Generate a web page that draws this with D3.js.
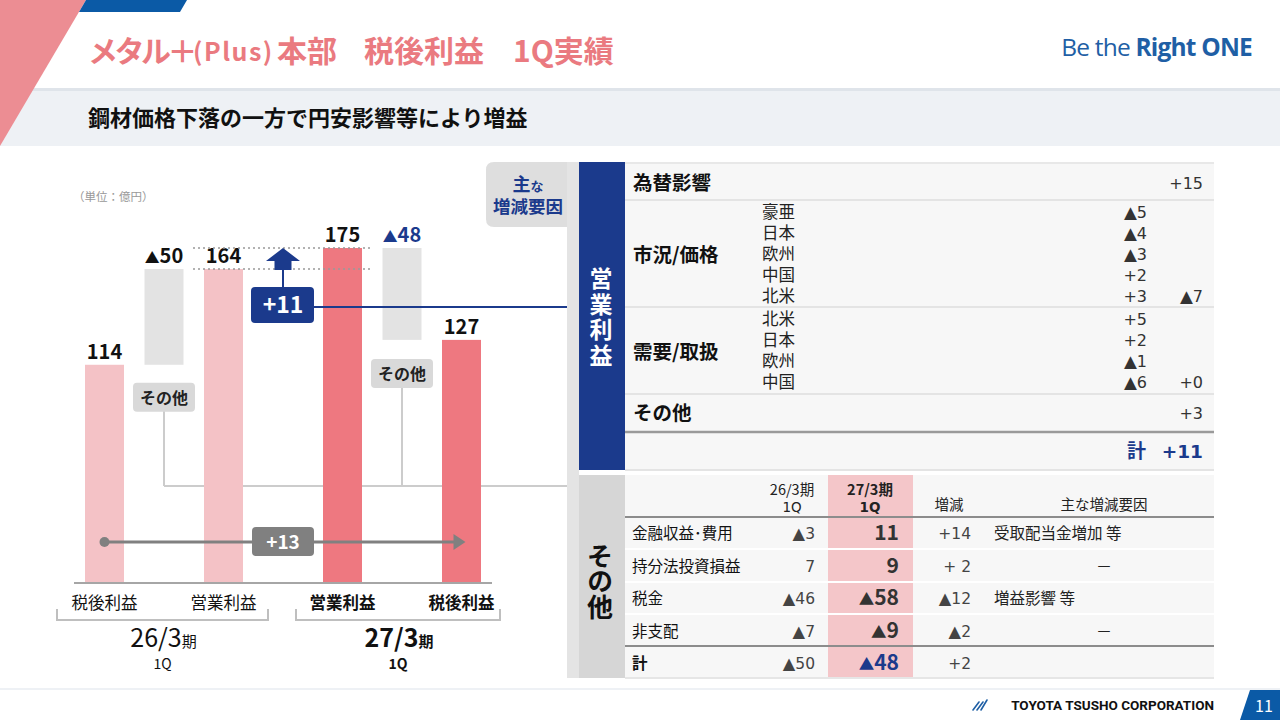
<!DOCTYPE html>
<html><head><meta charset="utf-8">
<script src="https://cdn.jsdelivr.net/npm/d3@7"></script>
<style>
html,body{margin:0;padding:0;background:#fff;}
svg{display:block;font-family:"Noto Sans CJK JP","Noto Sans",sans-serif;}
.vt{writing-mode:vertical-rl;}
.num{font-family:"DejaVu Sans","Noto Sans CJK JP",sans-serif;}
</style></head>
<body>
<svg id="c" width="1280" height="720"></svg>
<script>
// ---------- data ----------
const unitLabel = '（単位：億円）';
const stepCategories = ['税後利益','その他','営業利益','増減','営業利益','その他','税後利益'];
const stepValues = [114, -50, 164, 11, 175, -48, 127];
const stepKinds = ['prev','other','prev','op','curr','other','curr'];
const netChange = 13;
const periodMain = ['26/3','27/3'];
const periodSub = ['1Q','1Q'];

const fxLabel = '為替影響', fxValue = '+15';
const marketLabel = '市況/価格';
const marketItems = ['豪亜','日本','欧州','中国','北米'];
const marketValues = ['▲5','▲4','▲3','+2','+3'];
const marketTotal = '▲7';
const demandLabel = '需要/取扱';
const demandItems = ['北米','日本','欧州','中国'];
const demandValues = ['+5','+2','▲1','▲6'];
const demandTotal = '+0';
const otherOpLabel = 'その他', otherOpValue = '+3';
const opTotal = '+11';

const otherHeaders = ['26/3期|1Q','27/3期|1Q','増減','主な増減要因'];
const otherRows = ['金融収益･費用','持分法投資損益','税金','非支配','計'];
const otherPrev = ['▲3','7','▲46','▲7','▲50'];
const otherCurr = ['11','9','▲58','▲9','▲48'];
const otherDiff = ['+14','+ 2','▲12','▲2','+2'];
const otherReason = ['受取配当金増加 等','－','増益影響 等','－',''];

// ---------- setup ----------
const svg = d3.select('#c');
const NAVY = '#1b3a8c', PINK_L = '#f4c2c6', PINK_D = '#ee7880', GREY_BAR = '#e3e3e3';
const TITLE = '#ea7a80';

function addVal(sel, str, fs, k) {
  if (str.startsWith('▲')) {
    sel.append('tspan').attr('font-size', fs*(k||0.74)).text('▲');
    sel.append('tspan').text(str.slice(1));
  } else sel.append('tspan').text(str);
}

// header
svg.append('rect').attr('x',0).attr('y',88).attr('width',1280).attr('height',58).attr('fill','#eef1f5');
svg.append('rect').attr('x',0).attr('y',88).attr('width',1280).attr('height',3).attr('fill','#dfe4ea');
svg.append('polygon').attr('points','0,0 86,0 0,146').attr('fill','#ec8d93');
svg.append('polygon').attr('points','86,0 187,0 180,12 79,12').attr('fill','#0b5aa6');
const title = svg.append('text').attr('y',62).attr('fill',TITLE).attr('font-weight','bold').attr('font-size',30);
title.append('tspan').attr('x',88).attr('letter-spacing',-3.5).text('メタル＋');
title.append('tspan').attr('x',193).attr('font-size',25).attr('letter-spacing',1.5).attr('dy',-1).text('(Plus)');
title.append('tspan').attr('x',277).attr('dy',1).text('本部');
title.append('tspan').attr('x',364).text('税後利益');
title.append('tspan').attr('x',513).text('1Q実績');
svg.append('text').attr('x',88).attr('y',126).attr('font-size',22).attr('font-weight','bold').attr('fill','#111')
  .text('鋼材価格下落の一方で円安影響等により増益');
const logo = svg.append('text').attr('x',1252).attr('y',56).attr('text-anchor','end').attr('fill','#1f5fa5')
  .attr('font-family','"Open Sans",sans-serif').attr('font-size',24.5).attr('letter-spacing',-0.8);
logo.append('tspan').text('Be the ');
logo.append('tspan').attr('font-weight','bold').text('Right ONE');

// footer
svg.append('rect').attr('x',0).attr('y',688).attr('width',1280).attr('height',2).attr('fill','#eef1f5');
svg.append('text').attr('x',1214).attr('y',710).attr('text-anchor','end').attr('font-family','Roboto,sans-serif')
  .attr('font-weight','bold').attr('font-size',13.5).attr('fill','#111').text('TOYOTA TSUSHO CORPORATION');
const ic = svg.append('g').attr('stroke','#1f5fa5').attr('stroke-width',1.6).attr('fill','none').attr('stroke-linecap','round');
[[973,710,979,702],[977,710,983,702],[981,710,987,700]].forEach(d=>ic.append('line').attr('x1',d[0]).attr('y1',d[1]).attr('x2',d[2]).attr('y2',d[3]));
svg.append('polygon').attr('points','1250,690 1280,690 1280,720 1240,720').attr('fill','#0b5aa6');
svg.append('text').attr('x',1264).attr('y',712).attr('text-anchor','middle').attr('fill','#fff').attr('font-size',16).text('11');

// ---------- waterfall chart ----------
const x = d3.scalePoint().domain(d3.range(stepCategories.length)).range([104.5, 461.5]);
const y = d3.scaleLinear().domain([0, 175]).range([583, 248]);
const bw = 39;
const g = svg.append('g');

svg.append('text').attr('x',73).attr('y',201).attr('font-size',11.5).attr('fill','#999').text(unitLabel);

const otherIdx = stepKinds.map((k,i)=>k==='other'?i:-1).filter(i=>i>=0);
const connY = 486;
g.append('line').attr('x1',x(otherIdx[0])).attr('x2',580).attr('y1',connY).attr('y2',connY)
  .attr('stroke','#cccccc').attr('stroke-width',2);

stepValues.forEach((v,i)=>{
  const k = stepKinds[i];
  if (k==='prev' || k==='curr') {
    g.append('rect').attr('x',x(i)-bw/2).attr('y',y(v)).attr('width',bw).attr('height',y(0)-y(v))
      .attr('fill', k==='prev'?PINK_L:PINK_D);
    g.append('text').attr('x',x(i)).attr('y',y(v)-6).attr('text-anchor','middle')
      .attr('font-size',20).attr('font-weight','bold').attr('fill','#111').text(v);
  } else if (k==='other') {
    const a = stepValues[i-1], b = stepValues[i+1];
    const hi = Math.max(a,b), lo = Math.min(a,b);
    g.append('rect').attr('x',x(i)-bw/2).attr('y',y(hi)).attr('width',bw).attr('height',y(lo)-y(hi)).attr('fill',GREY_BAR);
    const t = g.append('text').attr('x',x(i)).attr('y',y(hi)-6).attr('text-anchor','middle')
      .attr('font-size',20).attr('font-weight','bold').attr('fill', i===otherIdx[1]?NAVY:'#111');
    addVal(t, '▲' + Math.abs(v), 20);
  }
});

otherIdx.forEach((i,j)=>{
  const lo = Math.min(stepValues[i-1],stepValues[i+1]);
  const top = y(lo) + (j===0 ? 18 : 19);
  g.append('line').attr('x1',x(i)).attr('x2',x(i)).attr('y1',top+28).attr('y2',connY)
    .attr('stroke','#cccccc').attr('stroke-width',2);
  g.append('rect').attr('x',x(i)-31).attr('y',top).attr('width',62).attr('height',29).attr('rx',4).attr('fill','#d9d9d9');
  g.append('text').attr('x',x(i)).attr('y',top+21).attr('text-anchor','middle').attr('font-size',16)
    .attr('font-weight','bold').attr('fill','#222').text('その他');
});

const opIdx = stepKinds.indexOf('op');
[stepValues[opIdx+1], stepValues[opIdx-1]].forEach(v=>{
  g.append('line').attr('x1',193).attr('x2',371).attr('y1',y(v)).attr('y2',y(v))
    .attr('stroke','#999').attr('stroke-width',1.5).attr('stroke-dasharray','2,3');
});

const ax = x(opIdx);
const tip = y(stepValues[opIdx-1] + stepValues[opIdx]);
g.append('path').attr('d',`M${ax},${tip} L${ax+17},${tip+13} L${ax+8.5},${tip+13} L${ax+8.5},${tip+22} L${ax-8.5},${tip+22} L${ax-8.5},${tip+13} L${ax-17},${tip+13} Z`).attr('fill',NAVY);
g.append('line').attr('x1',ax).attr('x2',ax).attr('y1',tip+22).attr('y2',288).attr('stroke',NAVY).attr('stroke-width',2);
g.append('line').attr('x1',ax+30).attr('x2',580).attr('y1',307).attr('y2',307).attr('stroke',NAVY).attr('stroke-width',2);
g.append('rect').attr('x',ax-32).attr('y',287).attr('width',63).attr('height',36).attr('rx',4).attr('fill',NAVY);
g.append('text').attr('x',ax).attr('y',313).attr('text-anchor','middle').attr('fill','#fff').attr('font-size',23)
  .attr('font-weight','bold').text('+' + stepValues[opIdx]);

const firstI = 0, lastI = stepValues.length-1;
const ny = 542;
g.append('line').attr('x1',x(firstI)).attr('x2',x(lastI)-6).attr('y1',ny).attr('y2',ny).attr('stroke','#808080').attr('stroke-width',3);
g.append('circle').attr('cx',x(firstI)).attr('cy',ny).attr('r',5).attr('fill','#808080');
g.append('path').attr('d',`M${x(lastI)+4},${ny} L${x(lastI)-8},${ny-8} L${x(lastI)-8},${ny+8} Z`).attr('fill','#808080');
g.append('rect').attr('x',252).attr('y',527).attr('width',62).attr('height',29).attr('rx',4).attr('fill','#808080');
g.append('text').attr('x',283).attr('y',549).attr('text-anchor','middle').attr('fill','#fff').attr('font-size',19)
  .attr('font-weight','bold').text('+' + netChange);

const axisG = g.append('g').attr('transform',`translate(0,${y(0)})`);
axisG.call(d3.axisBottom(x).tickSize(0).tickFormat(()=>''));
axisG.select('.domain').attr('d','M74,0H492').attr('stroke','#a6a6a6').attr('stroke-width',2);
axisG.selectAll('.tick').remove();

stepKinds.forEach((k,i)=>{
  if (k==='prev'||k==='curr') {
    g.append('text').attr('x',x(i)).attr('y',609).attr('text-anchor','middle').attr('font-size',16.5)
      .attr('font-weight', k==='curr'?'bold':'normal').attr('fill','#111').text(stepCategories[i]);
  }
});
const brackets = [[57,268],[296,500]];
brackets.forEach((b,j)=>{
  g.append('path').attr('d',`M${b[0]},609 V620 H${b[1]} V609`).attr('fill','none').attr('stroke','#bfbfbf').attr('stroke-width',2);
  const cx = (b[0]+b[1])/2;
  const t = g.append('text').attr('x',cx+1).attr('y',647).attr('text-anchor','middle').attr('fill','#111')
    .attr('font-weight', j===1?'bold':'normal');
  t.append('tspan').attr('font-size',25).text(periodMain[j]);
  t.append('tspan').attr('font-size',15).text('期');
  g.append('text').attr('x',cx).attr('y',669).attr('text-anchor','middle').attr('font-size',14)
    .attr('font-weight', j===1?'bold':'normal').attr('fill','#111').text(periodSub[j]);
});

// ---------- right panel: operating profit factors ----------
const R = svg.append('g');
R.append('path').attr('d','M494,162 H579 V227 H494 Q486,227 486,219 V170 Q486,162 494,162 Z').attr('fill','#dedede');
R.append('rect').attr('x',567).attr('y',162).attr('width',12).attr('height',516).attr('fill','#e4e4e4');
const tab = R.append('text').attr('class','num').attr('text-anchor','middle').attr('fill',NAVY).attr('font-weight','bold');
const tab1 = tab.append('tspan').attr('x',528).attr('y',191);
tab1.append('tspan').attr('font-size',18).text('主');
tab1.append('tspan').attr('font-size',13).text('な');
tab.append('tspan').attr('x',528).attr('y',213).attr('font-size',17.5).text('増減要因');

R.append('rect').attr('x',579).attr('y',162).attr('width',46).attr('height',308).attr('fill',NAVY);
R.append('text').attr('class','vt').attr('x',601).attr('y',318).attr('text-anchor','middle')
  .attr('fill','#fff').attr('font-weight','bold').attr('font-size',23).attr('letter-spacing',2.5).text('営業利益');
R.append('rect').attr('x',625).attr('y',162).attr('width',589).attr('height',308).attr('fill','#f7f7f7');
R.append('line').attr('x1',625).attr('x2',1214).attr('y1',163).attr('y2',163).attr('stroke','#e8e8e8').attr('stroke-width',2);
[200,307,394].forEach(v=>R.append('line').attr('x1',625).attr('x2',1214).attr('y1',v).attr('y2',v).attr('stroke','#e4e4e4').attr('stroke-width',2));
R.append('line').attr('x1',625).attr('x2',1214).attr('y1',432).attr('y2',432).attr('stroke','#9a9a9a').attr('stroke-width',2.5);
R.append('line').attr('x1',625).attr('x2',1214).attr('y1',470).attr('y2',470).attr('stroke','#e4e4e4').attr('stroke-width',2);

const FS = 16;
const TK = 1.05;
const lab = (t,yy)=>R.append('text').attr('x',633).attr('y',yy).attr('font-size',19.5).attr('font-weight','bold').attr('fill','#111').text(t);
const val = (t,xx,yy)=>{ const s = R.append('text').attr('class','num').attr('x',xx).attr('y',yy).attr('text-anchor','end').attr('font-size',FS).attr('fill','#333'); addVal(s,t,FS,TK); };
function column(items, xx, y0, anchor, isVal) {
  const t = R.append('text').attr('class','num').attr('font-size', isVal?FS:16.5).attr('fill', isVal?'#333':'#222').attr('text-anchor',anchor);
  items.forEach((s,i)=>{
    const line = t.append('tspan').attr('x',xx).attr('y',y0+i*21);
    if (isVal) addVal(line, s, FS, TK); else line.text(s);
  });
}
lab(fxLabel,190); val(fxValue,1203,189);
lab(marketLabel,262);
column(marketItems, 762, 218, 'start', false);
column(marketValues, 1147, 218, 'end', true);
val(marketTotal,1203,218+4*21);
lab(demandLabel,359);
column(demandItems, 762, 325, 'start', false);
column(demandValues, 1147, 325, 'end', true);
val(demandTotal,1203,325+3*21);
lab(otherOpLabel,420); val(otherOpValue,1203,419);
R.append('text').attr('x',1146).attr('y',458).attr('text-anchor','end').attr('font-size',19).attr('font-weight','bold').attr('fill',NAVY).text('計');
R.append('text').attr('class','num').attr('x',1203).attr('y',458).attr('text-anchor','end').attr('font-size',18.5).attr('font-weight','bold').attr('fill',NAVY).text(opTotal);

// ---------- right panel: other items table ----------
const T = svg.append('g');
T.append('rect').attr('x',579).attr('y',475).attr('width',46).attr('height',203).attr('fill','#d6d6d6');
T.append('text').attr('class','vt').attr('x',600).attr('y',581).attr('text-anchor','middle')
  .attr('fill','#111').attr('font-weight','bold').attr('font-size',26).attr('letter-spacing',-0.5).text('その他');
T.append('rect').attr('x',625).attr('y',475).attr('width',589).attr('height',203).attr('fill','#f7f7f7');
T.append('rect').attr('x',828).attr('y',475).attr('width',85).attr('height',203).attr('fill','#f4c6c9');
const cols = {prev:815, curr:899, diff:971, reason:994, reasonC:1104};
const hdr = (txt, cx, bold)=>{
  const parts = txt.split('|');
  const t = T.append('text').attr('class','num').attr('text-anchor','middle').attr('font-size',14.5)
    .attr('font-weight',bold?'bold':'normal').attr('fill','#222');
  parts.forEach((p,i)=>t.append('tspan').attr('x',cx).attr('y', parts.length>1 ? 495+i*17 : 510)
    .attr('font-family', i===1 ? null : '"Noto Sans CJK JP",sans-serif').attr('font-size', i===1 ? 13.5 : null).text(p));
};
hdr(otherHeaders[0],792,false); hdr(otherHeaders[1],870,true); hdr(otherHeaders[2],949,false); hdr(otherHeaders[3],1104,false);
T.append('line').attr('x1',625).attr('x2',1214).attr('y1',517).attr('y2',517).attr('stroke','#8c8c8c').attr('stroke-width',2);
const rowY = [533,566,598,631,663];
[549,582,614].forEach(v=>T.append('line').attr('x1',625).attr('x2',1214).attr('y1',v).attr('y2',v).attr('stroke','#ffffff').attr('stroke-width',2));
T.append('line').attr('x1',625).attr('x2',1214).attr('y1',646).attr('y2',646).attr('stroke','#8c8c8c').attr('stroke-width',2);
T.append('line').attr('x1',625).attr('x2',1214).attr('y1',678).attr('y2',678).attr('stroke','#e6e6e6').attr('stroke-width',2);
otherRows.forEach((r,i)=>{
  const yy = rowY[i]+6;
  const last = i===otherRows.length-1;
  T.append('text').attr('x',632).attr('y',yy).attr('font-size',15.5).attr('font-weight',last?'bold':'normal').attr('fill','#111').text(r);
  addVal(T.append('text').attr('class','num').attr('x',cols.prev).attr('y',yy).attr('text-anchor','end').attr('font-size',15.5).attr('fill','#444'), otherPrev[i], 15.5, TK);
  addVal(T.append('text').attr('x',cols.curr).attr('y',yy+1).attr('text-anchor','end').attr('font-size',21).attr('font-weight','bold')
    .attr('fill', last?NAVY:'#333'), otherCurr[i], 21);
  addVal(T.append('text').attr('class','num').attr('x',cols.diff).attr('y',yy).attr('text-anchor','end').attr('font-size',15.5).attr('fill','#444'), otherDiff[i], 15.5, TK);
  const rs = otherReason[i];
  if (rs==='－') T.append('text').attr('x',cols.reasonC).attr('y',yy).attr('text-anchor','middle').attr('font-size',16).attr('fill','#222').text(rs);
  else if (rs) T.append('text').attr('x',cols.reason).attr('y',yy).attr('font-size',15.5).attr('fill','#222').text(rs);
});
</script>
</body></html>
